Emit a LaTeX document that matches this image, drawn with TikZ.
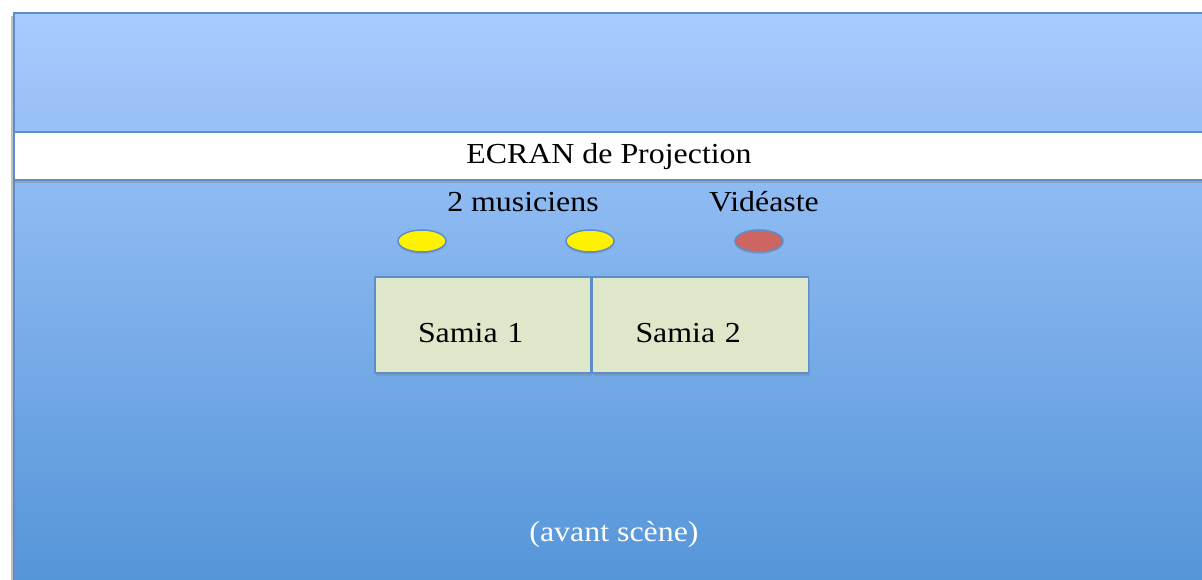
\documentclass[tikz,border=0pt]{standalone}
\usepackage{fontspec}
\setmainfont{Liberation Serif}[FakeStretch=1.1]
\usetikzlibrary{shapes.geometric,shadows,positioning}
\definecolor{stageborder}{HTML}{5A8DCA}
\definecolor{stagetop}{HTML}{A8CBFE}
\definecolor{stagebottom}{HTML}{5394D7}
\definecolor{samiafill}{HTML}{DEE7C9}
\definecolor{videofill}{HTML}{CD6661}
\tikzset{
	stage/.style={draw=stageborder, line width=2pt, top color=stagetop, bottom color=stagebottom},
	screen/.style={draw=stageborder, line width=2pt, fill=white, minimum width=1190pt, minimum height=48pt,
		drop shadow={shadow xshift=0pt, shadow yshift=-3pt, opacity=.4}},
	samia/.style={draw=stageborder, line width=1.5pt, fill=samiafill, minimum height=96pt,
		text width=130pt, inner xsep=43pt, align=left, text height=34pt, text depth=0pt,
		drop shadow={shadow xshift=1pt, shadow yshift=-3pt, opacity=.35}},
	person/.style={ellipse, draw=stageborder, line width=1.5pt, minimum width=48pt, minimum height=22pt, inner sep=0pt,
		drop shadow={shadow xshift=0pt, shadow yshift=-2pt, opacity=.35}},
	txt/.style={font=\fontsize{29}{33}\selectfont, inner sep=0pt}
}

\begin{document}
\begin{tikzpicture}[x=1pt, y=-1pt]
	\newcommand{\stageleft}{14}
	\newcommand{\stagetop}{13}
	\newcommand{\persony}{241}
	\newcommand{\namey}{212}
	\useasboundingbox (0,0) rectangle (1202,580);
	\clip (0,0) rectangle (1202,580);
	% scene
	\fill[black!25] (\stageleft-3,\stagetop+3) rectangle (\stageleft,600);
	\path[stage] (\stageleft,\stagetop) rectangle (1215,595);
	\node[screen, txt] (ecran) at (609,156.5) {ECRAN de Projection};
	% personnes
	\node[person, fill=yellow] (musicien1) at (422,\persony) {};
	\node[person, fill=yellow] (musicien2) at (590,\persony) {};
	\node[person, fill=videofill] (videaste) at (759,\persony) {};
	\node[txt, anchor=base] (musiciens) at (523,\namey) {2 musiciens};
	\node[txt, anchor=base] (videastelabel) at (764,\namey) {Vidéaste};
	% samia
	\node[samia, txt, text width=130pt, inner xsep=43pt] (samia1) at (483,325) {Samia 1};
	\node[samia, txt, text width=130pt, inner xsep=43pt, right=0pt of samia1] (samia2) {Samia 2};
	\node[txt, anchor=base, text=white] (avant) at (614,541) {(avant scène)};
\end{tikzpicture}
\end{document}
